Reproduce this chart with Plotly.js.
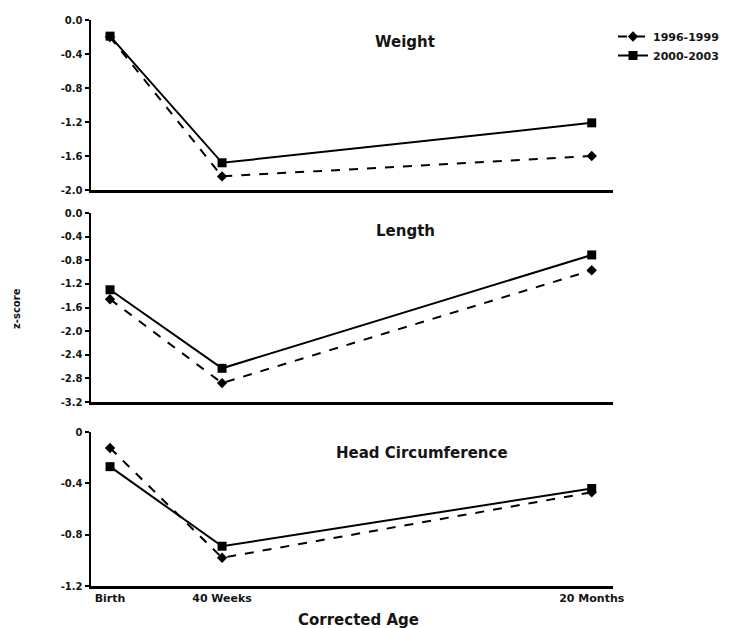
<!DOCTYPE html>
<html>
<head>
<meta charset="utf-8">
<script src="https://cdn.plot.ly/plotly-3.0.1.min.js"></script>
<style>html,body{margin:0;padding:0;background:#fff;}#chart{width:734px;height:628px;}</style>
</head>
<body>
<div id="chart"></div>
<script>
// Categories and their positions along the corrected-age axis
var ageLabels = ["Birth", "40 Weeks", "20 Months"];
var agePos = [0, 1, 4.3];

var seriesNames = ["1996-1999", "2000-2003"];

// Weight z-scores
var weight1996 = [-0.20, -1.84, -1.60];
var weight2000 = [-0.19, -1.68, -1.21];
// Length z-scores
var length1996 = [-1.46, -2.88, -0.97];
var length2000 = [-1.30, -2.63, -0.71];
// Head circumference z-scores
var head1996 = [-0.125, -0.98, -0.47];
var head2000 = [-0.27, -0.89, -0.44];

var panelTitles = ["Weight", "Length", "Head Circumference"];

var ticksWL = [0, -0.4, -0.8, -1.2, -1.6, -2.0];
var ticksWLText = ["0.0", "-0.4", "-0.8", "-1.2", "-1.6", "-2.0"];
var ticksL = [0, -0.4, -0.8, -1.2, -1.6, -2.0, -2.4, -2.8, -3.2];
var ticksLText = ["0.0", "-0.4", "-0.8", "-1.2", "-1.6", "-2.0", "-2.4", "-2.8", "-3.2"];
var ticksH = [0, -0.4, -0.8, -1.2];
var ticksHText = ["0", "-0.4", "-0.8", "-1.2"];

var F = "DejaVu Sans, Liberation Sans, Arial, sans-serif";
var TC = "#151515";

function mk(y, name, axes, dashed, show) {
  return {
    x: agePos, y: y, name: name, type: "scatter", mode: "lines+markers",
    xaxis: axes[0], yaxis: axes[1], showlegend: show,
    line: {color: "#000", width: 2, dash: dashed ? "dash" : "solid"},
    marker: {color: "#000", symbol: dashed ? "diamond" : "square", size: dashed ? 8 : 9}
  };
}

var data = [
  mk(weight1996, seriesNames[0], ["x", "y"], true, true),
  mk(weight2000, seriesNames[1], ["x", "y"], false, true),
  mk(length1996, seriesNames[0], ["x2", "y2"], true, false),
  mk(length2000, seriesNames[1], ["x2", "y2"], false, false),
  mk(head1996, seriesNames[0], ["x3", "y3"], true, false),
  mk(head2000, seriesNames[1], ["x3", "y3"], false, false)
];

var W = 734, H = 628;
function py(p) { return 1 - p / H; }
var xdom = [91 / W, 613 / W];
var xr = [-0.17, 4.49];

function xax(anchor, showLabels) {
  return {
    domain: xdom, range: xr, anchor: anchor, showgrid: false, zeroline: false,
    showline: true, linecolor: "#000", linewidth: 2.5, ticks: "",
    tickvals: agePos, ticktext: ageLabels, showticklabels: showLabels,
    tickfont: {family: F, size: 11, color: TC, weight: "bold"}
  };
}
function yax(anchor, dom, range, tv, tt) {
  return {
    domain: dom, range: range, anchor: anchor, showgrid: false, zeroline: false,
    showline: true, linecolor: "#000", linewidth: 2.5, ticks: "outside", ticklen: 4,
    tickwidth: 2, tickcolor: "#000", tickvals: tv, ticktext: tt,
    tickfont: {family: F, size: 10, color: TC, weight: "bold"}
  };
}

function ann(text, x, y, size, angle) {
  return {text: text, xref: "paper", yref: "paper", x: x / W, y: py(y),
    xanchor: "center", yanchor: "middle", showarrow: false, textangle: angle || 0,
    font: {family: F, size: size, color: TC, weight: "bold"}};
}

var layout = {
  width: W, height: H,
  margin: {l: 0, r: 0, t: 0, b: 0},
  paper_bgcolor: "#fff", plot_bgcolor: "#fff",
  showlegend: true,
  legend: {x: 613 / W, y: py(22), xanchor: "left", yanchor: "top",
    font: {family: F, size: 11, color: TC, weight: "bold"},
    bgcolor: "rgba(0,0,0,0)", itemwidth: 30, tracegroupgap: 0},
  xaxis: xax("y", false),
  yaxis: yax("x", [py(190), py(20)], [-2.0, 0], ticksWL, ticksWLText),
  xaxis2: xax("y2", false),
  yaxis2: yax("x2", [py(402), py(213)], [-3.2, 0], ticksL, ticksLText),
  xaxis3: xax("y3", true),
  yaxis3: yax("x3", [py(586), py(432)], [-1.2, 0], ticksH, ticksHText),
  annotations: [
    ann(panelTitles[0], 405, 42, 15),
    ann(panelTitles[1], 406, 231, 15),
    ann(panelTitles[2], 422, 453, 15),
    ann("Corrected Age", 358, 620, 15),
    ann("z-score", 17, 309, 10, -90)
  ]
};

Plotly.newPlot("chart", data, layout, {displayModeBar: false, staticPlot: true});
</script>
</body>
</html>
